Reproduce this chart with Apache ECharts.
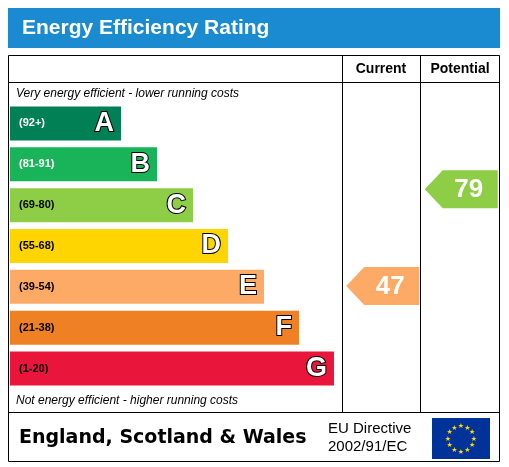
<!DOCTYPE html>
<html>
<head>
<meta charset="utf-8">
<script src="https://cdn.jsdelivr.net/npm/echarts@6/dist/echarts.min.js"></script>
<style>html,body{margin:0;padding:0;background:#fff}#main{width:509px;height:467px}</style>
</head>
<body>
<div id="main"></div>
<script>
// bands, top to bottom
var bandLetters = ['A', 'B', 'C', 'D', 'E', 'F', 'G'];
var bandRanges = ['(92+)', '(81-91)', '(69-80)', '(55-68)', '(39-54)', '(21-38)', '(1-20)'];
var bandLengths = [111, 147, 183, 218, 254, 289, 324];
var bandColors = ['#008054', '#19b459', '#8dce46', '#ffd500', '#fcaa65', '#ef8023', '#e9153b'];
var rangeTextColors = ['#fff', '#fff', '#000', '#000', '#000', '#000', '#000'];
// ratings
var columns = ['Current', 'Potential'];
var ratings = [47, 79];
var ratingColors = ['#fcaa65', '#8dce46'];

var chart = echarts.init(document.getElementById('main'));

// eu flag stars
var stars = [];
for (var i = 0; i < 12; i++) {
  var a = i / 12 * Math.PI * 2;
  stars.push({
    type: 'text', z: 20,
    style: { x: 461 + 13 * Math.cos(a), y: 439 + 13 * Math.sin(a), text: '★', fill: '#ffdd00', font: '7px DejaVu Sans', align: 'center', verticalAlign: 'middle' }
  });
}

var option = {
  animation: false,
  grid: [
    { left: 10, width: 490, top: 103, height: 286 },
    { left: 343, width: 157, top: 103, height: 286 }
  ],
  xAxis: [
    { gridIndex: 0, type: 'value', min: 0, max: 490, show: false },
    { gridIndex: 1, type: 'category', data: columns, show: false }
  ],
  yAxis: [
    { gridIndex: 0, type: 'category', data: bandLetters, inverse: true, show: false },
    { gridIndex: 1, type: 'value', min: 13, max: 107.5, show: false }
  ],
  graphic: [
    { type: 'rect', shape: { x: 8, y: 8, width: 492, height: 40 }, style: { fill: '#1a8ad1' } },
    { type: 'text', style: { x: 22, y: 28, text: 'Energy Efficiency Rating', fill: '#fff', font: 'bold 21px Arial, Liberation Sans', verticalAlign: 'middle' } },
    { type: 'rect', shape: { x: 8.5, y: 55.5, width: 491, height: 406 }, style: { fill: 'none', stroke: '#000', lineWidth: 1 } },
    { type: 'line', shape: { x1: 8, y1: 82.5, x2: 500, y2: 82.5 }, style: { stroke: '#000' } },
    { type: 'line', shape: { x1: 8, y1: 412.5, x2: 500, y2: 412.5 }, style: { stroke: '#000' } },
    { type: 'line', shape: { x1: 342.5, y1: 55, x2: 342.5, y2: 412 }, style: { stroke: '#000' } },
    { type: 'line', shape: { x1: 420.5, y1: 55, x2: 420.5, y2: 412 }, style: { stroke: '#000' } },
    { type: 'text', style: { x: 381, y: 69, text: 'Current', fill: '#000', font: 'bold 14px Arial, Liberation Sans', align: 'center', verticalAlign: 'middle' } },
    { type: 'text', style: { x: 460, y: 69, text: 'Potential', fill: '#000', font: 'bold 14px Arial, Liberation Sans', align: 'center', verticalAlign: 'middle' } },
    { type: 'text', style: { x: 16, y: 94, text: 'Very energy efficient - lower running costs', fill: '#000', font: 'italic 12px Arial, Liberation Sans', verticalAlign: 'middle' } },
    { type: 'text', style: { x: 16, y: 401, text: 'Not energy efficient - higher running costs', fill: '#000', font: 'italic 12px Arial, Liberation Sans', verticalAlign: 'middle' } },
    { type: 'text', style: { x: 19, y: 438, text: 'England, Scotland & Wales', fill: '#000', font: 'bold 19px DejaVu Sans', verticalAlign: 'middle' } },
    { type: 'text', style: { x: 328, y: 438, text: 'EU Directive\n2002/91/EC', fill: '#000', font: '15px Arial, Liberation Sans', verticalAlign: 'middle', lineHeight: 18 } },
    { type: 'rect', shape: { x: 432, y: 418, width: 58, height: 41 }, style: { fill: '#003399' } }
  ].concat(stars),
  series: [
    {
      type: 'bar', xAxisIndex: 0, yAxisIndex: 0, barWidth: 34,
      data: bandLengths.map(function (v, i) {
        return {
          value: v, itemStyle: { color: bandColors[i] },
          label: { color: rangeTextColors[i] }
        };
      }),
      label: {
        show: true, position: 'insideLeft', offset: [4, 0],
        font: 'bold 11px Arial', fontWeight: 'bold', fontSize: 11, fontFamily: 'Arial, Liberation Sans',
        formatter: function (p) { return bandRanges[p.dataIndex]; }
      }
    },
    {
      type: 'bar', xAxisIndex: 0, yAxisIndex: 0, barWidth: 34, barGap: '-100%',
      data: bandLengths,
      itemStyle: { color: 'rgba(0,0,0,0)' },
      label: {
        show: true, position: 'insideRight', offset: [-2, 0],
        fontWeight: 'bold', fontSize: 27, fontFamily: 'Arial, Liberation Sans',
        color: '#fff', textBorderColor: '#000', textBorderWidth: 2,
        formatter: function (p) { return bandLetters[p.dataIndex]; }
      }
    },
    {
      type: 'custom', xAxisIndex: 1, yAxisIndex: 1,
      data: ratings.map(function (v, i) { return [i, v]; }),
      renderItem: function (params, api) {
        var pt = api.coord([api.value(0), api.value(1)]);
        var left = pt[0] - 36, right = pt[0] + 37, h = 19, notch = left + 18;
        var i = params.dataIndex;
        return {
          type: 'group',
          children: [
            { type: 'polygon', shape: { points: [[left, pt[1]], [notch, pt[1] - h], [right, pt[1] - h], [right, pt[1] + h], [notch, pt[1] + h]] }, style: { fill: ratingColors[i] } },
            { type: 'text', style: { x: pt[0] + 8, y: pt[1] + 1, text: String(ratings[i]), fill: '#fff', font: 'bold 26px Arial, Liberation Sans', align: 'center', verticalAlign: 'middle' } }
          ]
        };
      }
    }
  ]
};
chart.setOption(option);
</script>
</body>
</html>
